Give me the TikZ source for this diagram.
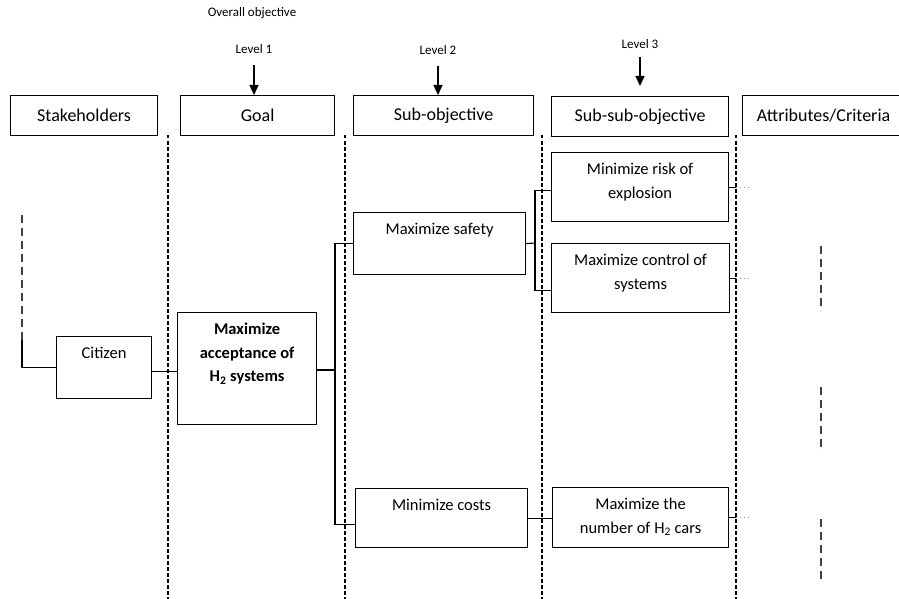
\documentclass[tikz,border=0pt]{standalone}
\usepackage{fontspec}
\setmainfont{Carlito}
\usetikzlibrary{arrows.meta,positioning}

\tikzset{
  hdr/.style={draw, line width=1.2pt, anchor=north west, minimum height=40pt, inner sep=0pt,
    font=\fontsize{18}{22}\selectfont},
  objbox/.style={draw, line width=1.2pt, anchor=north west, inner sep=0pt},
  boxtext/.style={anchor=north, yshift=-11pt, align=center, inner sep=0pt,
    font=\fontsize{16.5}{23.5}\selectfont},
  lvl/.style={inner sep=0pt, font=\fontsize{13}{15}\selectfont},
  lane/.style={line width=1.2pt, dash pattern=on 3.5pt off 2.5pt},
  longdash/.style={line width=1.2pt, black!75, dash pattern=on 8pt off 5pt},
  link/.style={line width=1.1pt},
  tail/.style={line width=0.8pt, black!45, dash pattern=on 1pt off 3pt},
  down/.style={line width=1.3pt, -{Triangle[length=10pt,width=9pt]}}
}

\begin{document}
\begin{tikzpicture}[x=1pt,y=-1pt]
  \clip (0,0) rectangle (899,599);

  % level labels
  \node[lvl] (overall) at (252,13) {Overall objective};
  \node[lvl] (lv1) at (254,49) {Level 1};
  \node[lvl] (lv2) at (438,50) {Level 2};
  \node[lvl] (lv3) at (640,44) {Level 3};

  % column headers
  \node[hdr, minimum width=147pt] (stake) at (10,95) {Stakeholders};
  \node[hdr, minimum width=154pt] (goalh) at (180,95) {Goal};
  \node[hdr, minimum width=180pt] (subh) at (353,95) {Sub-objective};
  \node[hdr, minimum width=177pt] (subsubh) at (551,96) {Sub-sub-objective};
  \node[hdr, minimum width=162pt] (attrh) at (742,95) {Attributes/Criteria};

  \coordinate (lv3tip) at (640,86);
  \draw[down] ([yshift=-11pt]lv1.south) -- (lv1 |- goalh.north);
  \draw[down] ([yshift=-11pt]lv2.south) -- (lv2 |- subh.north);
  \draw[down] ([yshift=-8pt]lv3.south) -- (lv3tip);

  % lanes
  \foreach \x in {168,345,542,736}
    \draw[lane] (\x,135) -- (\x,599);
  \coordinate (lane4) at (736,0);

  % objectives
  \node[objbox, minimum width=95pt, minimum height=62pt,
    label={[boxtext]north:Citizen}] (citizen) at (56,336) {};
  \node[objbox, minimum width=139pt, minimum height=112pt,
    label={[boxtext]north:\textbf{Maximize}\\\textbf{acceptance of}\\\textbf{H\textsubscript{2} systems}}] (goal) at (177,312) {};
  \node[objbox, minimum width=172pt, minimum height=62pt,
    label={[boxtext]north:Maximize safety}] (safety) at (353,212) {};
  \node[objbox, minimum width=172pt, minimum height=59pt,
    label={[boxtext]north:Minimize costs}] (costs) at (355,488) {};
  \node[objbox, minimum width=177pt, minimum height=69pt,
    label={[boxtext]north:Minimize risk of\\explosion}] (risk) at (551,152) {};
  \node[objbox, minimum width=178pt, minimum height=69pt,
    label={[boxtext]north:Maximize control of\\systems}] (control) at (551,243) {};
  \node[objbox, minimum width=176pt, minimum height=60pt,
    label={[boxtext]north:Maximize the\\number of H\textsubscript{2} cars}] (cars) at (552,487) {};

  % connectors
  \coordinate (cup) at (22,340);
  \coordinate (ctop) at (22,215);
  \coordinate (j1) at (335,370);
  \coordinate (j2) at (535,243);
  \draw[link] (citizen.west) -| (cup);
  \draw[longdash] (cup) -- (ctop);
  \draw[link] ([yshift=-4pt]citizen.east) -- ([yshift=-4pt]citizen.east -| goal.west);
  \draw[link] (goal.east |- j1) -- (j1);
  \draw[link] (safety.west) -| (j1) |- ([yshift=-6pt]costs.west);
  \draw[link] (safety.east) -- (j2);
  \draw[link] ([yshift=-3pt]risk.west) -| (j2) |- ([yshift=-12pt]control.west);
  \draw[link] (costs.east) -- (costs.east -| cars.west);
  \foreach \b in {risk,control,cars}{
    \draw[link] (\b.east) -- (\b.east -| lane4);
    \draw[tail] (\b.east -| lane4) -- ++(13,0);
  }

  % attribute placeholders
  \draw[longdash] (821,246) -- (821,311);
  \draw[longdash] (821,387) -- (821,452);
  \draw[longdash] (821,519) -- (821,583);
\end{tikzpicture}
\end{document}
